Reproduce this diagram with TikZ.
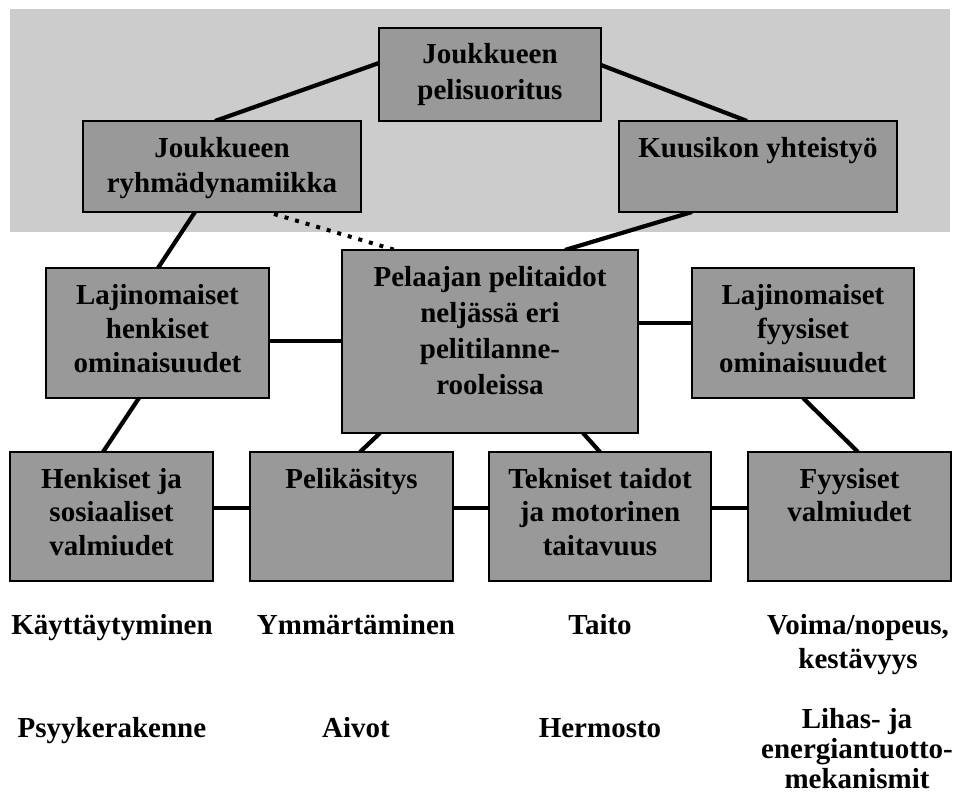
\documentclass[tikz,border=0pt]{standalone}
\usepackage{fontspec}
\setmainfont{Liberation Serif}
\usetikzlibrary{calc}
\pgfdeclarelayer{background}
\pgfsetlayers{background,main}
\definecolor{bggray}{RGB}{204,204,204}
\definecolor{boxgray}{RGB}{153,153,153}
\newcommand{\bxtext}[3]{\parbox[c][#2pt][t]{#1pt}{\centering\rule{0pt}{36pt}#3}}
\newcommand{\lbltext}[1]{\parbox[t]{260pt}{\centering\rule{0pt}{36pt}#1}}
\begin{document}
\begin{tikzpicture}[x=1pt,y=-1pt,
  every node/.style={font=\bfseries\fontsize{29}{35}\selectfont},
  box/.style={draw=black, line width=1.3pt, fill=boxgray, inner sep=0pt, outer sep=0pt},
  conn/.style={line width=4.2pt},
  dotconn/.style={line width=4pt, dash pattern=on 4pt off 7pt},
  lbl/.style={inner sep=0pt, anchor=north}]
\useasboundingbox (0,0) rectangle (954,795);
% boxes
\node[box] (top) at (490,74.5) {\bxtext{222}{93}{Joukkueen\\pelisuoritus}};
\node[box] (ryhma) at (222,166.5) {\bxtext{278}{91}{Joukkueen\\ryhmädynamiikka}};
\node[box] (kuus) at (758,166.5) {\bxtext{278}{91}{Kuusikon yhteistyö}};
\node[box] (pel) at (490,341.5) {\bxtext{296}{183}{Pelaajan pelitaidot\\[1pt]neljässä eri\\[1pt]pelitilanne-\\[1pt]rooleissa}};
\node[box] (lajh) at (157.5,333) {\bxtext{223}{130}{Lajinomaiset\\[-1pt]henkiset\\[-1pt]ominaisuudet}};
\node[box] (lajf) at (803,333) {\bxtext{222}{130}{Lajinomaiset\\[-1pt]fyysiset\\[-1pt]ominaisuudet}};
\node[box] (hv) at (111.5,516.5) {\bxtext{203}{129}{Henkiset ja\\[-1.5pt]sosiaaliset\\[-1.5pt]valmiudet}};
\node[box] (pk) at (351.5,516.5) {\bxtext{203}{129}{Pelikäsitys}};
\node[box] (tk) at (600,516.5) {\bxtext{222}{129}{Tekniset taidot\\[-1.5pt]ja motorinen\\[-1.5pt]taitavuus}};
\node[box] (fv) at (849.5,516.5) {\bxtext{203}{129}{Fyysiset\\[-1.5pt]valmiudet}};
% labels
\node[lbl] (l1) at (112,598) {\lbltext{Käyttäytyminen}};
\node[lbl] (l2) at (356,598) {\lbltext{Ymmärtäminen}};
\node[lbl] (l3) at (600,598) {\lbltext{Taito}};
\node[lbl] (l4) at (858,598) {\lbltext{Voima/nopeus,\\[-1pt]kestävyys}};
\node[lbl] (m1) at (112,701) {\lbltext{Psyykerakenne}};
\node[lbl] (m2) at (356,701) {\lbltext{Aivot}};
\node[lbl] (m3) at (600,701) {\lbltext{Hermosto}};
\node[lbl] (m4) at (857,692) {\lbltext{Lihas- ja\\[-5pt]energiantuotto-\\[-5pt]mekanismit}};
\begin{pgfonlayer}{background}
\fill[bggray] (10,9) rectangle (950,232);
\draw[conn] ($(top.north west)+(0,35)$) -- ($(ryhma.north west)+(132,0)$);
\draw[conn] ($(top.north east)+(0,37)$) -- ($(kuus.north west)+(128,0)$);
\draw[conn] ($(ryhma.south west)+(112,0)$) -- ($(lajh.north west)+(112,0)$);
\draw[dotconn] ($(ryhma.south west)+(191,2)$) -- ($(pel.north west)+(53,0)$);
\draw[conn] ($(kuus.south west)+(73,0)$) -- ($(pel.north west)+(223,0)$);
\draw[conn] ($(lajh.north east)+(0,73)$) -- ($(pel.north west)+(0,91)$);
\draw[conn] ($(pel.north east)+(0,73)$) -- ($(lajf.north west)+(0,55)$);
\draw[conn] ($(lajh.south west)+(93,0)$) -- ($(hv.north west)+(93,0)$);
\draw[conn] ($(pel.south west)+(38,0)$) -- ($(pk.north west)+(110,0)$);
\draw[conn] ($(pel.south west)+(241,0)$) -- ($(tk.north west)+(111,0)$);
\draw[conn] ($(lajf.south west)+(111,0)$) -- ($(fv.north west)+(110,0)$);
\draw[conn] ($(hv.north east)+(0,56)$) -- ($(pk.north west)+(0,56)$);
\draw[conn] ($(pk.north east)+(0,56)$) -- ($(tk.north west)+(0,56)$);
\draw[conn] ($(tk.north east)+(0,56)$) -- ($(fv.north west)+(0,56)$);
\end{pgfonlayer}
\end{tikzpicture}
\end{document}
